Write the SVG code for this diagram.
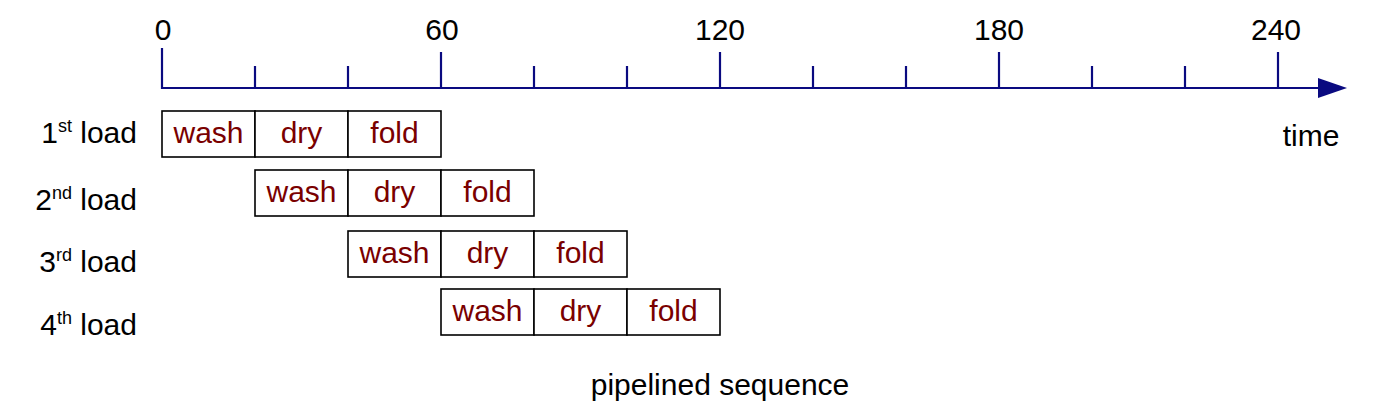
<svg xmlns="http://www.w3.org/2000/svg" width="1382" height="420" viewBox="0 0 1382 420">
<style>
  text { font-family: "Liberation Sans", Arial, sans-serif; font-size: 30px; fill: #000; }
  .tick { stroke: #0a0a80; stroke-width: 2.2; fill: none; }
  .cell { fill: #fff; stroke: #000; stroke-width: 1.6; }
  .ct { fill: #7a0000; text-anchor: middle; }
  .num { text-anchor: middle; }
  .lab { text-anchor: end; }
  .sup { font-size: 18px; }
</style>
<rect width="1382" height="420" fill="#fff"/>
<g id="connectors">
  <line class="tick" x1="161" y1="88" x2="1322" y2="88"/>
  <polygon points="1318,78 1347,88 1318,98" fill="#0a0a80"/>
  <line class="tick" x1="162" y1="48" x2="162" y2="89"/>
  <line class="tick" x1="255" y1="66" x2="255" y2="88"/>
  <line class="tick" x1="348" y1="66" x2="348" y2="88"/>
  <line class="tick" x1="441" y1="52" x2="441" y2="88"/>
  <line class="tick" x1="534" y1="66" x2="534" y2="88"/>
  <line class="tick" x1="627" y1="66" x2="627" y2="88"/>
  <line class="tick" x1="720" y1="52" x2="720" y2="88"/>
  <line class="tick" x1="813" y1="66" x2="813" y2="88"/>
  <line class="tick" x1="906" y1="66" x2="906" y2="88"/>
  <line class="tick" x1="999" y1="52" x2="999" y2="88"/>
  <line class="tick" x1="1092" y1="66" x2="1092" y2="88"/>
  <line class="tick" x1="1185" y1="66" x2="1185" y2="88"/>
  <line class="tick" x1="1278" y1="52" x2="1278" y2="88"/>
</g>
<g id="axis-labels">
  <text class="num" x="163" y="40">0</text>
  <text class="num" x="442" y="40">60</text>
  <text class="num" x="720" y="40">120</text>
  <text class="num" x="999" y="40">180</text>
  <text class="num" x="1276" y="40">240</text>
  <text class="num" x="1311" y="146">time</text>
</g>
<g id="load-labels">
  <text class="lab" x="137" y="143">1<tspan class="sup" dy="-11">st</tspan><tspan dy="11"> load</tspan></text>
  <text class="lab" x="137" y="210">2<tspan class="sup" dy="-11">nd</tspan><tspan dy="11"> load</tspan></text>
  <text class="lab" x="137" y="272">3<tspan class="sup" dy="-11">rd</tspan><tspan dy="11"> load</tspan></text>
  <text class="lab" x="137" y="335">4<tspan class="sup" dy="-11">th</tspan><tspan dy="11"> load</tspan></text>
</g>
<g id="load1">
  <rect class="cell" x="162" y="111" width="93" height="46"/>
  <rect class="cell" x="255" y="111" width="93" height="46"/>
  <rect class="cell" x="348" y="111" width="93" height="46"/>
  <text class="ct" x="208.5" y="143">wash</text>
  <text class="ct" x="301.5" y="143">dry</text>
  <text class="ct" x="394.5" y="143">fold</text>
</g>
<g id="load2">
  <rect class="cell" x="255" y="170" width="93" height="46"/>
  <rect class="cell" x="348" y="170" width="93" height="46"/>
  <rect class="cell" x="441" y="170" width="93" height="46"/>
  <text class="ct" x="301.5" y="202">wash</text>
  <text class="ct" x="394.5" y="202">dry</text>
  <text class="ct" x="487.5" y="202">fold</text>
</g>
<g id="load3">
  <rect class="cell" x="348" y="231" width="93" height="46"/>
  <rect class="cell" x="441" y="231" width="93" height="46"/>
  <rect class="cell" x="534" y="231" width="93" height="46"/>
  <text class="ct" x="394.5" y="263">wash</text>
  <text class="ct" x="487.5" y="263">dry</text>
  <text class="ct" x="580.5" y="263">fold</text>
</g>
<g id="load4">
  <rect class="cell" x="441" y="289" width="93" height="46"/>
  <rect class="cell" x="534" y="289" width="93" height="46"/>
  <rect class="cell" x="627" y="289" width="93" height="46"/>
  <text class="ct" x="487.5" y="321">wash</text>
  <text class="ct" x="580.5" y="321">dry</text>
  <text class="ct" x="673.5" y="321">fold</text>
</g>
<g id="caption">
  <text class="num" x="720" y="395">pipelined sequence</text>
</g>
</svg>
